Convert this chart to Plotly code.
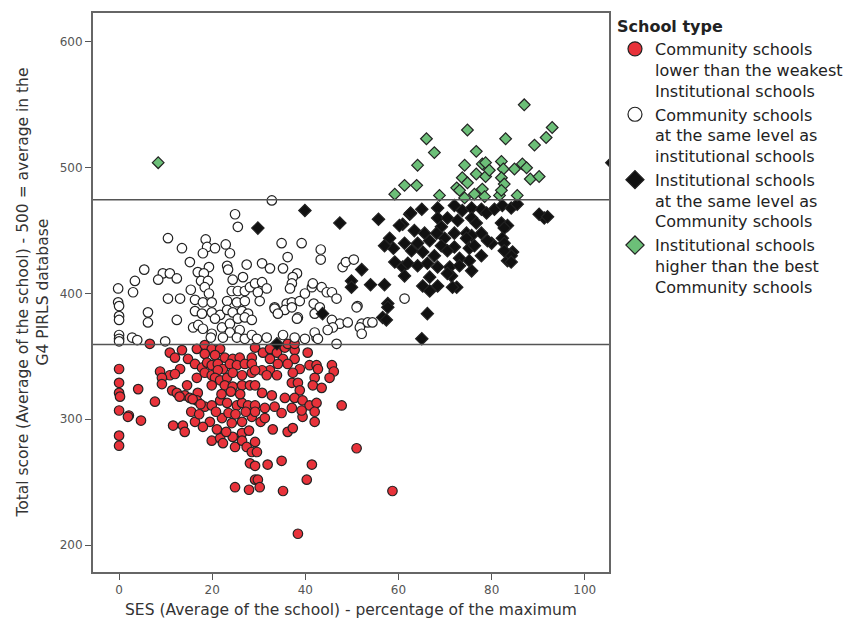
import plotly.graph_objects as go

# school type 1: community schools below the weakest institutional school
red_x = [6.6, 10.9, 12.0, 13.5, 14.8, 16.7, 18.4, 19.9, 21.7, 18.4, 20.6, 22.7, 24.4, 25.9, 28.5,
         16.3, 17.8, 18.9, 19.9, 21.2, 22.3, 23.8, 25.3, 27.0, 28.5, 0.0, 13.1, 8.8, 10.9, 12.0,
         9.2, 9.2, 16.7, 18.4, 19.9, 21.2, 20.6, 21.7, 23.2, 24.4, 26.4, 28.5, 22.7, 24.4, 26.4,
         28.1, 19.9, 0.0, 4.1, 0.0, 0.2, 14.6, 11.4, 12.4, 14.1, 16.9, 15.2, 16.7, 7.7, 18.4,
         19.9, 21.7, 23.2, 25.3, 26.4, 27.7, 0.0, 2.1, 1.9, 4.7, 0.0, 0.0, 11.6, 13.7, 14.1,
         16.3, 19.5, 22.1, 24.2, 26.4, 28.5, 19.9, 21.7, 22.3, 24.4, 26.4, 27.9, 24.9, 26.4, 27.4,
         28.5, 28.1, 24.9, 27.9, 29.2, 30.4, 31.3, 33.0, 36.2, 37.3, 39.4, 42.0, 29.2, 29.6, 31.9,
         34.9, 41.4, 40.3, 35.2, 29.8, 30.2, 29.2, 51.0, 58.7, 38.4, 29.2, 30.9, 32.4, 33.9, 35.6,
         37.7, 36.2, 37.7, 40.5, 32.4, 35.2, 37.7, 34.1, 36.2, 32.4, 30.7, 29.2, 38.8, 40.9, 42.4,
         42.7, 45.7, 46.1, 45.2, 31.7, 33.9, 37.3, 37.1, 38.4, 42.0, 41.6, 43.5, 38.8, 29.2, 30.7,
         32.8, 35.6, 37.7, 39.4, 40.9, 42.4, 47.8, 37.1, 39.2, 33.4, 31.3, 29.2, 42.0, 29.2, 34.9,
         15.5, 17.2, 20.8, 23.5, 25.0, 27.2, 13.0, 15.8, 17.5, 22.0, 24.0, 26.0, 18.0, 21.0, 23.0]
red_y = [360, 353, 349, 355, 348, 356, 359, 356, 356, 352, 351, 349, 348, 349, 349,
         344, 341, 345, 343, 344, 340, 344, 343, 344, 344, 340, 340, 338, 335, 336,
         333, 328, 333, 337, 335, 339, 333, 331, 333, 337, 335, 337, 327, 326, 327,
         327, 327, 329, 324, 321, 318, 327, 323, 321, 319, 321, 317, 315, 314, 310,
         311, 315, 313, 311, 313, 311, 307, 303, 302, 299, 287, 279, 295, 295, 290,
         298, 298, 301, 297, 298, 302, 283, 285, 281, 286, 289, 291, 278, 283, 278,
         274, 265, 246, 244, 252, 298, 301, 292, 290, 293, 302, 298, 282, 274, 264,
         267, 264, 252, 243, 252, 246, 263, 277, 243, 209, 357, 353, 356, 353, 357,
         355, 360, 360, 353, 348, 348, 348, 344, 344, 339, 339, 339, 340, 343, 343,
         340, 343, 338, 333, 335, 335, 337, 329, 329, 333, 327, 325, 323, 327, 321,
         319, 317, 317, 315, 311, 313, 311, 309, 307, 310, 309, 311, 306, 306, 305,
         306, 304, 306, 305, 304, 306, 318, 316, 312, 320, 322, 320, 294, 292, 290]

# school type 2: community schools at the same level as institutional schools
white_x = [24.9, 25.5, 10.5, 13.5, 18.6, 18.9, 20.6, 22.9, 23.8, 18.0, 15.2, 19.3, 23.2, 23.4, 27.4,
           5.4, 9.4, 10.9, 8.4, 12.4, 16.9, 18.2, 17.6, 19.1, 24.4, 26.6, 3.4, -0.2, 3.0, 15.4,
           18.4, 19.3, 24.2, 25.5, 27.0, 28.1, 10.5, 13.1, 16.3, 18.0, 19.9, -0.2, 23.2, 25.3, 27.0,
           0.0, 0.0, 0.0, 6.2, 6.2, 12.4, 0.0, 0.0, 0.0, 2.8, 3.9, 9.9, 15.9, 17.0, 18.0,
           16.3, 17.8, 19.9, 21.7, 23.2, 24.4, 26.4, 27.7, 20.6, 22.1, 23.8, 25.5, 27.0, 28.5, 23.8,
           25.9, 19.9, 19.7, 22.3, 25.3, 27.0, 28.5, 32.8, 34.9, 39.2, 36.2, 43.3, 43.3, 30.7, 32.4,
           35.2, 38.2, 37.3, 37.1, 36.7, 29.2, 30.7, 31.7, 29.8, 30.2, 33.4, 36.0, 37.1, 38.8, 39.9,
           41.4, 41.6, 43.5, 44.6, 45.7, 46.7, 41.8, 48.0, 48.7, 50.4, 51.2, 57.7, 61.3, 33.4, 35.6,
           37.1, 34.1, 38.4, 38.2, 42.0, 43.1, 45.7, 47.4, 49.1, 45.9, 44.8, 52.1, 53.4, 54.4, 51.0,
           51.7, 52.1, 29.6, 31.7, 35.2, 37.7, 39.9, 42.4, 42.0, 42.7, 46.7]
white_y = [463, 453, 444, 436, 443, 437, 436, 439, 432, 432, 425, 421, 422, 419, 423,
           419, 416, 416, 411, 412, 417, 416, 410, 410, 411, 413, 410, 404, 401, 403,
           405, 400, 402, 402, 402, 405, 396, 396, 395, 393, 393, 393, 394, 393, 394,
           390, 382, 379, 385, 377, 379, 367, 364, 362, 365, 363, 362, 373, 375, 372,
           386, 384, 385, 383, 387, 385, 386, 384, 380, 373, 376, 380, 381, 379, 369,
           371, 368, 365, 365, 365, 364, 367, 474, 440, 440, 429, 435, 427, 424, 420,
           420, 416, 413, 408, 404, 408, 409, 404, 401, 394, 389, 392, 393, 394, 400,
           405, 408, 405, 401, 401, 396, 392, 421, 425, 427, 390, 440, 396, 388, 387,
           389, 384, 381, 380, 384, 389, 379, 376, 377, 373, 371, 376, 377, 377, 389,
           373, 368, 364, 365, 367, 365, 364, 365, 369, 364, 360]

# school type 3: institutional schools at the same level as community schools
black_x = [39.9, 47.4, 55.7, 29.8, 60.9, 58.9, 52.1, 49.9, 49.9, 54.0, 57.0, 60.9, 57.7, 43.7, 56.6,
           57.4, 57.7, 33.9, 91.3, 65.0, 62.4, 68.4, 72.0, 73.7, 75.7, 77.8, 78.9, 80.6, 82.3, 84.2,
           85.5, 68.4, 70.5, 72.7, 75.7, 76.7, 82.1, 83.4, 69.2, 63.4, 65.6, 68.2, 69.9, 72.0, 74.6,
           75.7, 77.8, 80.0, 82.7, 82.3, 61.3, 64.1, 66.7, 69.2, 72.0, 74.6, 75.2, 76.3, 77.8, 82.7,
           84.5, 62.8, 65.2, 67.7, 70.5, 73.1, 75.2, 83.4, 84.2, 62.0, 64.1, 66.2, 68.4, 71.0, 73.1,
           71.4, 75.7, 66.7, 68.4, 72.5, 70.5, 60.2, 62.6, 58.1, 57.0, 59.2, 61.3, 65.2, 66.7, 66.2,
           65.0, 71.6, 90.2, 92.0, 82.7, 84.2, 79.1, 105.8]
black_y = [466, 456, 459, 452, 455, 436, 419, 410, 405, 407, 407, 421, 392, 384, 381,
           379, 389, 360, 460, 467, 463, 468, 470, 466, 468, 467, 464, 467, 470, 468,
           471, 460, 460, 458, 460, 456, 456, 454, 453, 450, 448, 448, 444, 448, 448,
           446, 448, 440, 452, 444, 440, 440, 442, 438, 437, 444, 436, 438, 430, 440,
           433, 434, 433, 430, 434, 428, 426, 426, 430, 424, 422, 424, 421, 421, 422,
           414, 418, 413, 406, 405, 416, 454, 464, 444, 438, 425, 414, 406, 402, 384,
           364, 405, 463, 461, 434, 425, 442, 504]

# school type 4: institutional schools above the best community school
green_x = [87.0, 93.0, 91.7, 89.2, 74.8, 66.0, 83.0, 67.7, 76.7, 64.1, 74.2, 78.0, 78.7, 82.1, 82.5,
           84.9, 86.6, 87.5, 76.7, 78.7, 73.7, 74.8, 82.1, 88.3, 90.2, 82.7, 63.9, 61.3, 59.2, 68.8,
           72.5, 73.1, 78.0, 76.3, 74.2, 78.5, 81.7, 85.5, 82.1, 79.5, 8.4]
green_y = [550, 532, 524, 518, 530, 523, 523, 512, 513, 502, 502, 503, 504, 505, 499,
           499, 503, 500, 495, 493, 492, 488, 492, 491, 493, 487, 486, 486, 479, 478,
           484, 482, 483, 479, 476, 477, 478, 478, 482, 498, 504]

cut_low = 359.5
cut_high = 474.6

legend_names = [
    "Community schools<br>lower than the weakest<br>Institutional schools",
    "Community schools<br>at the same level as<br>institutional schools",
    "Institutional schools<br>at the same level as<br>Community schools",
    "Institutional schools<br>higher than the best<br>Community schools",
]

styles = [
    dict(symbol="circle", color="#e8323a", size=9.5),
    dict(symbol="circle", color="white", size=9.5),
    dict(symbol="diamond", color="#111111", size=9.5),
    dict(symbol="diamond", color="#6cbf78", size=9),
]
groups = [(red_x, red_y), (white_x, white_y), (black_x, black_y), (green_x, green_y)]

fig = go.Figure()
for (gx, gy), st in zip(groups, styles):
    fig.add_trace(go.Scatter(
        x=gx, y=gy, mode="markers", showlegend=False, hoverinfo="skip",
        marker=dict(symbol=st["symbol"], color=st["color"], size=st["size"],
                    line=dict(color="#222222", width=1.2)),
    ))

# bigger symbols for the legend only
for name, st in zip(legend_names, styles):
    fig.add_trace(go.Scatter(
        x=[None], y=[None], mode="markers", name=name,
        marker=dict(symbol=st["symbol"], color=st["color"], size=14,
                    line=dict(color="#222222", width=1.2)),
    ))

for yv in (cut_low, cut_high):
    fig.add_shape(type="line", xref="paper", x0=0, x1=1, yref="y", y0=yv, y1=yv,
                  line=dict(color="#555555", width=1.5))

title_font = dict(family="DejaVu Sans", size=15.5, color="#333333")
fig.add_annotation(text="SES (Average of the school) - percentage of the maximum",
                   xref="paper", yref="paper", x=0.5, y=-0.068, xanchor="center", yanchor="middle",
                   showarrow=False, font=title_font)
fig.add_annotation(text="Total score (Average of the school) - 500 = average in the<br>G4 PIRLS database",
                   xref="paper", yref="paper", x=-0.118, y=0.5, xanchor="center", yanchor="middle",
                   textangle=-90, showarrow=False, font=title_font)

axis_common = dict(
    showgrid=False, zeroline=False, showline=True, mirror=True, automargin=False,
    linecolor="#666666", linewidth=2, ticks="outside", ticklen=6,
    tickcolor="#555555", tickfont=dict(family="DejaVu Sans", size=12, color="#555555"),
)

# page body has an 8px default margin, so the figure is 8px smaller and margins shifted
fig.update_layout(
    width=848, height=621,
    margin=dict(l=85, r=247, t=4, b=57),
    paper_bgcolor="white", plot_bgcolor="white",
    font=dict(family="DejaVu Sans", color="#222222"),
    legend=dict(
        x=1.0116, y=1.0015, xanchor="left", yanchor="top",
        title=dict(text="<b>School type</b>", font=dict(size=16)),
        font=dict(size=16, color="#222222"), valign="top", tracegroupgap=0,
    ),
    xaxis=dict(range=[-5.6, 105.2], tickvals=[0, 20, 40, 60, 80, 100], **axis_common),
    yaxis=dict(range=[178.6, 623], tickvals=[200, 300, 400, 500, 600], **axis_common),
)

fig.write_html("out.html")
